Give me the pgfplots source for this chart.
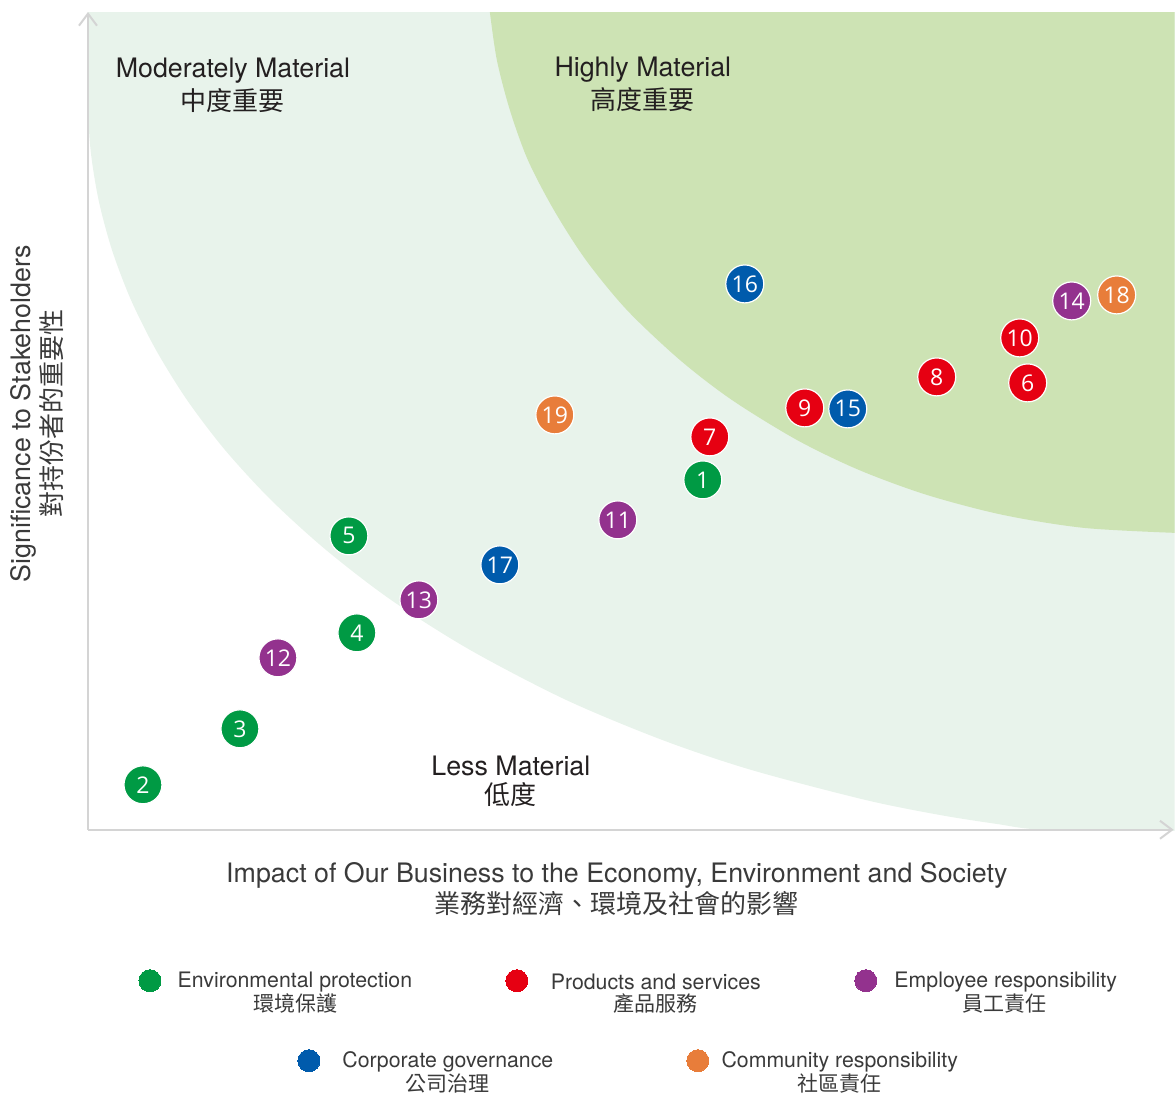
\documentclass[border=0pt]{standalone}
\usepackage{pgfplots}
\usepackage{pgfplotstable}
\pgfplotsset{compat=1.18}
\usepackage{fontspec}
\setmainfont{TeX Gyre Heros}
\newfontfamily\cjk{Noto Sans CJK TC}
\newfontfamily\numfont{Open Sans}
\usetikzlibrary{arrows.meta}
\definecolor{cgreen}{HTML}{009A44}
\definecolor{cred}{HTML}{E60012}
\definecolor{cpurple}{HTML}{93328E}
\definecolor{cblue}{HTML}{005BAC}
\definecolor{corange}{HTML}{E87D3A}
\definecolor{pale}{HTML}{E8F3EB}
\definecolor{darkg}{HTML}{CDE3B4}
\definecolor{axisgray}{HTML}{D4D4D4}
\definecolor{txt}{HTML}{231F20}
\definecolor{leg}{HTML}{3A3A3A}

\pgfplotstableread{
x y label
703 480 1
143 785 2
240 729 3
357 633 4
349 536 5
}\envdata
\pgfplotstableread{
x y label
1028 383 6
710 437 7
937 377 8
805 408 9
1020 338 10
}\proddata
\pgfplotstableread{
x y label
618 520 11
278 658 12
419 600 13
1072 301 14
}\empdata
\pgfplotstableread{
x y label
848 409 15
745 284 16
500 565 17
}\govdata
\pgfplotstableread{
x y label
1117 295 18
555 415 19
}\comdata

\pgfplotsset{
  bubble/.style={only marks, mark=*, mark size=9.5pt,
    mark options={draw=white, line width=0.6pt, fill=#1},
    nodes near coords, point meta=explicit symbolic,
    every node near coord/.append style={anchor=center, text=white,
      font=\numfont\fontsize{11.5}{12}\selectfont}},
  legdot/.style={only marks, color=#1, mark=*, mark size=5.5pt,
    mark options={draw=#1, fill=#1, line width=0pt}},
}

\newcommand{\mainfs}{\fontsize{13.4}{15}\selectfont}
\newcommand{\cjkfs}{\cjk\fontsize{13}{15}\selectfont}
\newcommand{\legfs}{\fontsize{10.65}{12}\selectfont}
\newcommand{\legcjk}{\cjk\fontsize{10.5}{12}\selectfont}

\begin{document}
\begin{tikzpicture}
\begin{axis}[
  scale only axis, width=543.5pt, height=409pt,
  xmin=88, xmax=1175, ymin=12, ymax=830, y dir=reverse,
  axis line style={draw=none}, ticks=none, clip=false,
]
\path (axis cs:0,0) rectangle (axis cs:1175,1094);
% background regions
\addplot[draw=none, fill=pale, smooth] coordinates {
  (88,12) (88,100) (90.6,150) (98.6,200) (112,250) (131,300) (156,350)
  (187,400) (225,450) (271,500) (326,550) (391,600) (470,650) (566,700)
  (662,740) (751,770) (865,800) (939,815) (996,824) (1045,830) (1175,831)}
  -- (axis cs:1175,12) -- cycle;
\addplot[draw=none, fill=darkg, smooth] coordinates {
  (490,12) (497,60) (510,110) (528,160) (554,210) (586,260) (627,310)
  (680,360) (732,400) (797,440) (859,470) (927,495) (1003,515) (1084,528)
  (1175,533)}
  -- (axis cs:1175,12) -- cycle;
% axis lines
\draw[axisgray, line width=1pt, -{Straight Barb[length=6pt, width=9pt]}]
  (axis cs:88,830) -- (axis cs:88,12);
\draw[axisgray, line width=1pt, -{Straight Barb[length=6pt, width=9pt]}]
  (axis cs:88,830) -- (axis cs:1174,830);
% region labels
\node[text=txt, font=\mainfs] at (axis cs:233,71) {Moderately Material};
\node[text=txt, font=\cjkfs] at (axis cs:233,101) {中度重要};
\node[text=txt, font=\mainfs] at (axis cs:643,70) {Highly Material};
\node[text=txt, font=\cjkfs] at (axis cs:643,100) {高度重要};
\node[text=txt, font=\mainfs] at (axis cs:511,766) {Less Material};
\node[text=txt, font=\cjkfs] at (axis cs:511,795) {低度};
% bubbles
\addplot[bubble=cgreen] table[x=x, y=y, meta=label] {\envdata};
\addplot[bubble=cred] table[x=x, y=y, meta=label] {\proddata};
\addplot[bubble=cpurple] table[x=x, y=y, meta=label] {\empdata};
\addplot[bubble=cblue] table[x=x, y=y, meta=label] {\govdata};
\addplot[bubble=corange] table[x=x, y=y, meta=label] {\comdata};
% axis titles
\node[text=leg, font=\mainfs] at (axis cs:617,876) {Impact of Our Business to the Economy, Environment and Society};
\node[text=leg, font=\cjkfs] at (axis cs:617,904) {業務對經濟、環境及社會的影響};
\node[text=leg, font=\mainfs, rotate=90] at (axis cs:23,414) {Significance to Stakeholders};
\node[text=leg, font=\cjkfs, rotate=90] at (axis cs:52,414) {對持份者的重要性};
% legend
\addplot[legdot=cgreen] coordinates {(150,981)};
\addplot[legdot=cred] coordinates {(517,981)};
\addplot[legdot=cpurple] coordinates {(866,981)};
\addplot[legdot=cblue] coordinates {(309,1061)};
\addplot[legdot=corange] coordinates {(698,1061)};
\node[text=leg, font=\legfs] at (axis cs:295,982) {Environmental protection};
\node[text=leg, font=\legcjk] at (axis cs:296,1004) {環境保護};
\node[text=leg, font=\legfs] at (axis cs:656,982) {Products and services};
\node[text=leg, font=\legcjk] at (axis cs:656,1004) {產品服務};
\node[text=leg, font=\legfs] at (axis cs:1006,982) {Employee responsibility};
\node[text=leg, font=\legcjk] at (axis cs:1005,1004) {員工責任};
\node[text=leg, font=\legfs] at (axis cs:448,1062) {Corporate governance};
\node[text=leg, font=\legcjk] at (axis cs:448,1084) {公司治理};
\node[text=leg, font=\legfs] at (axis cs:840,1062) {Community responsibility};
\node[text=leg, font=\legcjk] at (axis cs:840,1084) {社區責任};
\end{axis}
\end{tikzpicture}
\end{document}
